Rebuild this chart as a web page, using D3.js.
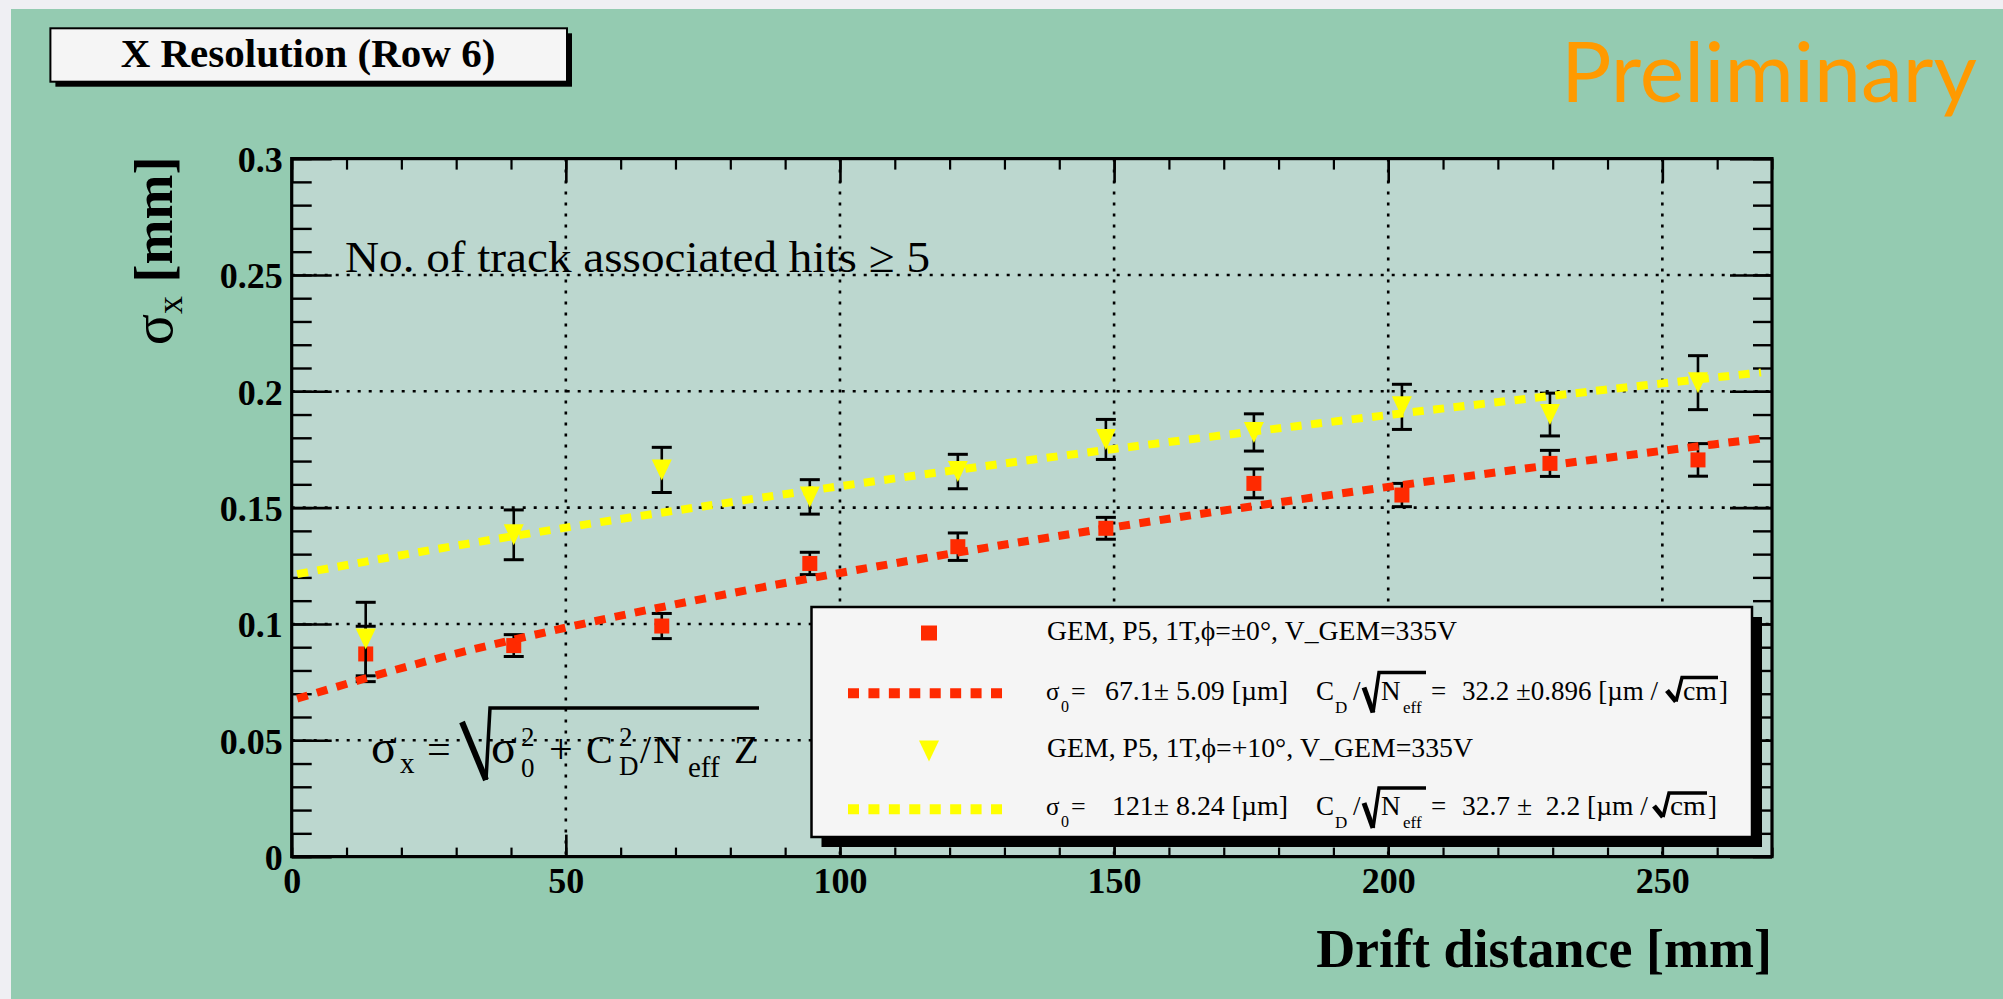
<!DOCTYPE html>
<html><head><meta charset="utf-8">
<script src="https://cdn.jsdelivr.net/npm/d3@7"></script>
<style>
html,body{margin:0;padding:0;background:#efeff3;}
svg{display:block}
text{white-space:pre}
</style>
</head><body>
<svg id="c" width="2003" height="999"></svg>
<script>
// ---------------- data ----------------
const driftX = [13.5, 40.5, 67.5, 94.5, 121.5, 148.5, 175.5, 202.5, 229.5, 256.5];
const sigma0deg = [0.0871, 0.0907, 0.0991, 0.1260, 0.1332, 0.1411, 0.1604, 0.1554, 0.1690, 0.1705];
const err0deg   = [0.0119, 0.0047, 0.0054, 0.0048, 0.0059, 0.0047, 0.0062, 0.0050, 0.0056, 0.0070];
const sigma10deg = [0.0935, 0.1383, 0.1662, 0.1546, 0.1655, 0.1793, 0.1823, 0.1933, 0.1900, 0.2037];
const err10deg   = [0.0158, 0.0107, 0.0097, 0.0074, 0.0074, 0.0086, 0.0080, 0.0097, 0.0092, 0.0116];
// fit curves
const fitX      = [1, 25, 50, 75, 100, 125, 150, 175, 200, 225, 250, 268];
const fit0deg   = [0.0679, 0.0842, 0.0984, 0.1108, 0.1219, 0.1321, 0.1416, 0.1505, 0.1589, 0.1668, 0.1744, 0.1797];
const fit10deg  = [0.1214, 0.1316, 0.1414, 0.1505, 0.1592, 0.1674, 0.1752, 0.1826, 0.1898, 0.1967, 0.2034, 0.2081];
const xTickLabels = ["0", "50", "100", "150", "200", "250"];
const yTickLabels = ["0", "0.05", "0.1", "0.15", "0.2", "0.25", "0.3"];
const legendLabels = ["GEM, P5, 1T,\u03D5=\u00B10\u00B0, V_GEM=335V", "GEM, P5, 1T,\u03D5=+10\u00B0, V_GEM=335V"];
const fitSigma0 = ["67.1\u00B1 5.09 [\u00B5m]", "121\u00B1 8.24 [\u00B5m]"];
const fitCD = ["32.2 \u00B10.896 [\u00B5m /", "32.7 \u00B1  2.2 [\u00B5m /"];

// ---------------- setup ----------------
const svg = d3.select("#c");
const SERIF = "'Liberation Serif','Times New Roman',serif";
const RED = "#ff2a00", YEL = "#ffff00";

svg.append("rect").attr("x", 11).attr("y", 9).attr("width", 2003).attr("height", 999).attr("fill", "#94cbb1");

const L = 291.7, R = 1772, T = 158.6, B = 856.6;
const x = d3.scaleLinear().domain([0, 270]).range([L, R]);
const y = d3.scaleLinear().domain([0, 0.3]).range([B, T]);

// frame background
svg.append("rect").attr("x", L).attr("y", T).attr("width", R - L).attr("height", B - T).attr("fill", "#bcd7cf");

// grid
const gx = [50, 100, 150, 200, 250], gy = [0.05, 0.1, 0.15, 0.2, 0.25];
const grid = svg.append("g").attr("stroke", "#000").attr("stroke-width", 2.6).attr("stroke-dasharray", "3,8");
grid.selectAll("line.v").data(gx).join("line").attr("x1", d => x(d)).attr("x2", d => x(d)).attr("y1", T).attr("y2", B);
grid.selectAll("line.h").data(gy).join("line").attr("x1", L).attr("x2", R).attr("y1", d => y(d)).attr("y2", d => y(d));

// axes (ticks pointing inward)
const minorX = d3.range(0, 271, 10), majorX = d3.range(0, 251, 50);
const minorY = d3.range(0, 0.3001, 0.01), majorY = d3.range(0, 0.3001, 0.05);
function styleAxis(g, w) { g.select(".domain").remove(); g.selectAll(".tick line").attr("stroke", "#000").attr("stroke-width", w); }

svg.append("g").attr("transform", `translate(0,${B})`)
  .call(d3.axisBottom(x).tickValues(minorX).tickSizeInner(-9).tickSizeOuter(0).tickFormat(""))
  .call(g => styleAxis(g, 2.2));
svg.append("g").attr("transform", `translate(0,${B})`)
  .call(d3.axisBottom(x).tickValues(majorX).tickSizeInner(-22).tickSizeOuter(0).tickPadding(11).tickFormat((d, i) => xTickLabels[i]))
  .call(g => { styleAxis(g, 2.6); g.selectAll("text").attr("font-family", SERIF).attr("font-weight", "bold").attr("font-size", 36).attr("fill", "#000"); });
svg.append("g").attr("transform", `translate(0,${T})`)
  .call(d3.axisTop(x).tickValues(minorX).tickSizeInner(-11).tickSizeOuter(0).tickFormat(""))
  .call(g => styleAxis(g, 2.2));
svg.append("g").attr("transform", `translate(0,${T})`)
  .call(d3.axisTop(x).tickValues(majorX).tickSizeInner(-24).tickSizeOuter(0).tickFormat(""))
  .call(g => styleAxis(g, 2.6));

svg.append("g").attr("transform", `translate(${L},0)`)
  .call(d3.axisLeft(y).tickValues(minorY).tickSizeInner(-20).tickSizeOuter(0).tickFormat(""))
  .call(g => styleAxis(g, 2.4));
svg.append("g").attr("transform", `translate(${L},0)`)
  .call(d3.axisLeft(y).tickValues(majorY).tickSizeInner(-40).tickSizeOuter(0).tickPadding(9).tickFormat((d, i) => yTickLabels[i]))
  .call(g => { styleAxis(g, 2.6); g.selectAll("text").attr("font-family", SERIF).attr("font-weight", "bold").attr("font-size", 36).attr("fill", "#000").attr("dy", "0.36em"); });
svg.append("g").attr("transform", `translate(${R},0)`)
  .call(d3.axisRight(y).tickValues(minorY).tickSizeInner(-19).tickSizeOuter(0).tickFormat(""))
  .call(g => styleAxis(g, 2.4));
svg.append("g").attr("transform", `translate(${R},0)`)
  .call(d3.axisRight(y).tickValues(majorY).tickSizeInner(-42).tickSizeOuter(0).tickFormat(""))
  .call(g => styleAxis(g, 2.6));

// frame border
svg.append("rect").attr("x", L).attr("y", T).attr("width", R - L).attr("height", B - T)
  .attr("fill", "none").attr("stroke", "#000").attr("stroke-width", 3.2);

// ---------------- data series ----------------
function drawErrors(ys, es) {
  const g = svg.append("g").attr("stroke", "#000").attr("stroke-width", 2.6);
  driftX.forEach((d, i) => {
    const cx = x(d), y1 = y(ys[i] - es[i]), y2 = y(ys[i] + es[i]);
    g.append("line").attr("x1", cx).attr("x2", cx).attr("y1", y1).attr("y2", y2);
    g.append("line").attr("x1", cx - 10).attr("x2", cx + 10).attr("y1", y1).attr("y2", y1).attr("stroke-width", 3);
    g.append("line").attr("x1", cx - 10).attr("x2", cx + 10).attr("y1", y2).attr("y2", y2).attr("stroke-width", 3);
  });
}
drawErrors(sigma0deg, err0deg);
svg.append("g").selectAll("rect").data(driftX).join("rect")
  .attr("x", d => x(d) - 7.5).attr("y", (d, i) => y(sigma0deg[i]) - 7.5)
  .attr("width", 15).attr("height", 15).attr("fill", RED);
drawErrors(sigma10deg, err10deg);
const tri = (cx, cy) => `M${cx - 10},${cy - 10.5}L${cx + 10},${cy - 10.5}L${cx},${cy + 10.5}Z`;
svg.append("g").selectAll("path").data(driftX).join("path")
  .attr("d", (d, i) => tri(x(d), y(sigma10deg[i]))).attr("fill", YEL);

// fit curves
const line = d3.line().x(d => x(d[0])).y(d => y(d[1])).curve(d3.curveMonotoneX);
svg.append("path").attr("d", line(fitX.map((d, i) => [d, fit0deg[i]])))
  .attr("fill", "none").attr("stroke", RED).attr("stroke-width", 8).attr("stroke-dasharray", "11,9.5");
svg.append("path").attr("d", line(fitX.map((d, i) => [d, fit10deg[i]])))
  .attr("fill", "none").attr("stroke", YEL).attr("stroke-width", 8).attr("stroke-dasharray", "11,9.5");

// ---------------- texts inside the frame ----------------
svg.append("text").attr("x", 345).attr("y", 272).attr("font-family", SERIF).attr("font-size", 45)
  .attr("textLength", 585).attr("lengthAdjust", "spacingAndGlyphs").text("No. of track associated hits \u2265 5");

// formula
const F = svg.append("g").attr("font-family", SERIF).attr("fill", "#000");
function t(g, xx, yy, s, fs, extra) { const e = g.append("text").attr("x", xx).attr("y", yy).attr("font-size", fs).text(s); if (extra) extra(e); return e; }
t(F, 371, 763, "\u03C3", 48);
t(F, 400, 773, "x", 29);
t(F, 427, 763, "=", 42);
F.append("path").attr("d", "M462,722 L486,780").attr("stroke", "#000").attr("stroke-width", 6).attr("fill", "none");
F.append("path").attr("d", "M486,780 L490,708 L759,708").attr("stroke", "#000").attr("stroke-width", 3.5).attr("fill", "none");
t(F, 491, 763, "\u03C3", 48);
t(F, 521, 746, "2", 27);
t(F, 521, 777, "0", 27);
t(F, 549, 763, "+", 42);
t(F, 586, 763, "C", 40);
t(F, 619, 746, "2", 27);
t(F, 619, 775, "D", 27);
t(F, 640, 763, "/", 40);
t(F, 653, 763, "N", 40);
t(F, 688, 777, "eff", 29);
t(F, 734, 763, "Z", 40);

// ---------------- legend ----------------
const LX = 811.5, LY = 607, LW = 940.5, LH = 230;
svg.append("rect").attr("x", LX + 10).attr("y", LY + 10).attr("width", LW).attr("height", LH).attr("fill", "#000");
svg.append("rect").attr("x", LX).attr("y", LY).attr("width", LW).attr("height", LH).attr("fill", "#f5f5f5")
  .attr("stroke", "#000").attr("stroke-width", 2.5);
const G = svg.append("g").attr("font-family", SERIF).attr("fill", "#000");
// row markers
G.append("rect").attr("x", 921).attr("y", 625.5).attr("width", 16).attr("height", 15).attr("fill", RED);
G.append("path").attr("d", tri(929, 751)).attr("fill", YEL);
G.append("line").attr("x1", 848).attr("x2", 1005).attr("y1", 693.3).attr("y2", 693.3)
  .attr("stroke", RED).attr("stroke-width", 10).attr("stroke-dasharray", "11,9.43");
G.append("line").attr("x1", 848).attr("x2", 1005).attr("y1", 809.3).attr("y2", 809.3)
  .attr("stroke", YEL).attr("stroke-width", 10).attr("stroke-dasharray", "11,9.43");
t(G, 1047, 640, legendLabels[0], 27, e => e.attr("textLength", 410).attr("lengthAdjust", "spacingAndGlyphs"));
t(G, 1047, 757, legendLabels[1], 27, e => e.attr("textLength", 426).attr("lengthAdjust", "spacingAndGlyphs"));

function fitRow(base, i, s0x, s0len, cdLen, sqX, cmLen) {
  t(G, 1046, base, "\u03C3", 25);
  t(G, 1061, base + 12, "0", 16);
  t(G, 1071, base, "=", 26);
  t(G, s0x, base, fitSigma0[i], 27, e => e.attr("textLength", s0len).attr("lengthAdjust", "spacingAndGlyphs"));
  t(G, 1316, base, "C", 27);
  t(G, 1335, base + 13, "D", 17);
  t(G, 1353, base, "/", 27);
  G.append("path").attr("d", `M1364,${base - 12} L1373,${base + 13}`).attr("stroke", "#000").attr("stroke-width", 5).attr("fill", "none");
  G.append("path").attr("d", `M1373,${base + 13} L1379,${base - 27} L1426,${base - 27}`).attr("stroke", "#000").attr("stroke-width", 3.5).attr("fill", "none");
  t(G, 1381, base, "N", 27);
  t(G, 1403, base + 13, "eff", 17);
  t(G, 1431, base, "=", 27);
  t(G, 1462, base, fitCD[i], 27, e => e.attr("textLength", cdLen).attr("lengthAdjust", "spacingAndGlyphs"));
  const sx = sqX;
  G.append("path").attr("d", `M${sx},${base - 9} L${sx + 9},${base + 2}`).attr("stroke", "#000").attr("stroke-width", 5).attr("fill", "none");
  G.append("path").attr("d", `M${sx + 9},${base + 2} L${sx + 15},${base - 22} L${sx + 15 + cmLen + 2},${base - 22}`).attr("stroke", "#000").attr("stroke-width", 3.5).attr("fill", "none");
  t(G, sx + 16, base, "cm", 27, e => e.attr("textLength", cmLen).attr("lengthAdjust", "spacingAndGlyphs"));
  t(G, sx + 18 + cmLen, base, "]", 27);
}
fitRow(699.5, 0, 1105, 183, 196, 1667, 34);
fitRow(815, 1, 1112, 176, 186, 1654, 36);

// ---------------- title & labels ----------------
svg.append("rect").attr("x", 55.4).attr("y", 33.3).attr("width", 516.6).attr("height", 53.4).attr("fill", "#000");
svg.append("rect").attr("x", 50.4).attr("y", 28.3).attr("width", 516.6).attr("height", 53.4)
  .attr("fill", "#f5f5f5").attr("stroke", "#000").attr("stroke-width", 2);
svg.append("text").attr("x", 308).attr("y", 67).attr("text-anchor", "middle").attr("font-family", SERIF)
  .attr("font-weight", "bold").attr("font-size", 41).text("X Resolution (Row 6)");

svg.append("text").attr("x", 1561).attr("y", 102).attr("font-family", "Lato, 'Open Sans', sans-serif")
  .attr("font-weight", 400).attr("font-size", 84).attr("fill", "#ff9a00")
  .attr("textLength", 416).attr("lengthAdjust", "spacingAndGlyphs").text("Preliminary");

svg.append("text").attr("x", R).attr("y", 967).attr("text-anchor", "end").attr("font-family", SERIF)
  .attr("font-weight", "bold").attr("font-size", 54).text("Drift distance [mm]");

const yl = svg.append("text").attr("transform", `translate(172,${T - 2}) rotate(-90)`).attr("text-anchor", "end")
  .attr("font-family", SERIF).attr("font-size", 54);
yl.append("tspan").attr("font-size", 58).text("\u03C3");
yl.append("tspan").attr("font-size", 36).attr("dy", 10).text("x");
yl.append("tspan").attr("font-weight", "bold").attr("dy", -10).text(" [mm]");
</script>
</body></html>
